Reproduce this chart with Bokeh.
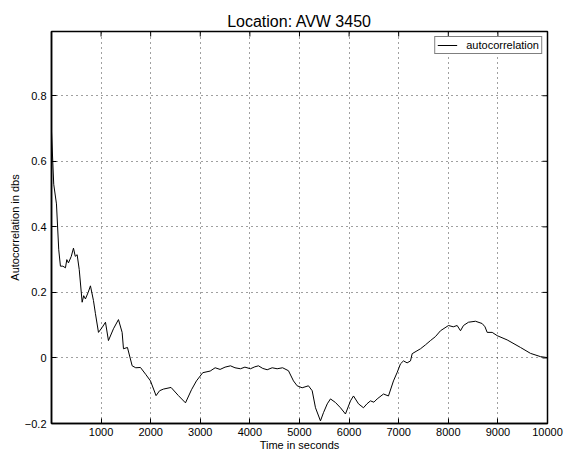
from bokeh.plotting import figure
from bokeh.models import ColumnDataSource, Range1d, FixedTicker, Legend, LegendItem
from bokeh.embed import file_html
from bokeh.resources import INLINE

# ---- data ----
time_s = [1, 46, 101, 147, 181, 230, 282, 310, 343, 400, 444, 480, 518, 560, 619, 650,
          685, 740, 786, 847, 887, 948, 1022, 1089, 1149, 1250, 1351, 1425, 1452, 1532,
          1627, 1700, 1794, 1900, 1996, 2109, 2180, 2258, 2411, 2560, 2702, 2823, 2923,
          3050, 3200, 3300, 3400, 3500, 3609, 3700, 3810, 3900, 4012, 4100, 4173, 4260,
          4349, 4450, 4550, 4660, 4778, 4879, 4953, 5054, 5181, 5256, 5323, 5423, 5484,
          5560, 5625, 5726, 5827, 5927, 6028, 6089, 6190, 6290, 6360, 6431, 6500, 6566,
          6694, 6794, 6895, 6970, 7036, 7097, 7170, 7238, 7272, 7350, 7440, 7540, 7641,
          7740, 7843, 8004, 8100, 8179, 8246, 8306, 8407, 8548, 8683, 8740, 8784, 8885,
          8986, 9187, 9456, 9657, 9859, 10000]
autocorr = [0.69, 0.53, 0.47, 0.33, 0.28, 0.28, 0.275, 0.30, 0.29, 0.31, 0.335, 0.31,
            0.315, 0.27, 0.17, 0.19, 0.18, 0.20, 0.22, 0.175, 0.135, 0.078, 0.093, 0.109,
            0.053, 0.089, 0.117, 0.078, 0.028, 0.032, -0.024, -0.03, -0.029, -0.05, -0.07,
            -0.115, -0.10, -0.095, -0.09, -0.115, -0.137, -0.097, -0.07, -0.045, -0.04,
            -0.03, -0.035, -0.028, -0.024, -0.03, -0.033, -0.028, -0.033, -0.027, -0.024,
            -0.032, -0.036, -0.03, -0.033, -0.03, -0.039, -0.07, -0.085, -0.091, -0.085,
            -0.10, -0.152, -0.192, -0.167, -0.14, -0.125, -0.136, -0.152, -0.171, -0.131,
            -0.116, -0.14, -0.152, -0.14, -0.131, -0.135, -0.125, -0.11, -0.116, -0.07,
            -0.044, -0.018, -0.009, -0.015, -0.009, 0.013, 0.02, 0.028, 0.04, 0.053,
            0.065, 0.083, 0.099, 0.095, 0.099, 0.083, 0.099, 0.109, 0.112, 0.105, 0.095,
            0.078, 0.078, 0.068, 0.055, 0.032, 0.014, 0.004, 0.001]
x_ticks = [1000, 2000, 3000, 4000, 5000, 6000, 7000, 8000, 9000, 10000]
y_ticks = [-0.2, 0, 0.2, 0.4, 0.6, 0.8]
y_tick_labels = {-0.2: "\u22120.2", 0: "0", 0.2: "0.2", 0.4: "0.4", 0.6: "0.6", 0.8: "0.8"}

FONT = "Liberation Sans"
X0, X1 = 1, 10000
Y0, Y1 = -0.2, 0.996

p = figure(width=571, height=455, output_backend="svg", toolbar_location=None,
           x_range=Range1d(X0, X1), y_range=Range1d(Y0, Y1),
           min_border_left=51, min_border_right=24, min_border_top=31, min_border_bottom=32,
           title="Location: AVW 3450")
p.title.align = "center"
p.title.text_font = FONT
p.title.text_font_size = "16px"
p.title.text_font_style = "normal"
p.title.text_color = "black"
p.title.standoff = 3

p.background_fill_color = "white"
p.border_fill_color = "white"
p.outline_line_color = "black"
p.outline_line_width = 1.5

for g in (p.xgrid[0], p.ygrid[0]):
    g.grid_line_color = "black"
    g.grid_line_alpha = 0.75
    g.grid_line_dash = "1 4"
    g.grid_line_width = 1
p.xgrid.ticker = FixedTicker(ticks=x_ticks)
p.ygrid.ticker = FixedTicker(ticks=y_ticks)

# mirrored box ticks on the top and right edges (5 px long, inward)
frame_w, frame_h = 496, 392
tick_dx = 5 * (X1 - X0) / frame_w
tick_dy = 5 * (Y1 - Y0) / frame_h
p.segment(x0=x_ticks, y0=[Y1] * len(x_ticks), x1=x_ticks, y1=[Y1 - tick_dy] * len(x_ticks),
          line_color="black", line_width=1)
p.segment(x0=[X1] * len(y_ticks), y0=y_ticks, x1=[X1 - tick_dx] * len(y_ticks), y1=y_ticks,
          line_color="black", line_width=1)

src = ColumnDataSource(dict(t=time_s, a=autocorr))
r = p.line("t", "a", source=src, line_color="black", line_width=1)


def style_axis(ax):
    ax.major_tick_in = 5
    ax.major_tick_out = 0
    ax.minor_tick_in = 0
    ax.minor_tick_out = 0
    ax.axis_line_color = "black"
    ax.axis_line_width = 1.5
    ax.major_tick_line_color = "black"
    ax.major_label_text_font = FONT
    ax.major_label_text_font_size = "11px"
    ax.major_label_text_color = "black"
    ax.axis_label_text_font = FONT
    ax.axis_label_text_font_size = "11px"
    ax.axis_label_text_font_style = "normal"
    ax.axis_label_text_color = "black"


style_axis(p.xaxis[0])
style_axis(p.yaxis[0])
p.xaxis.ticker = FixedTicker(ticks=x_ticks)
p.yaxis.ticker = FixedTicker(ticks=y_ticks)
p.yaxis.major_label_overrides = y_tick_labels
p.xaxis.major_label_standoff = 4
p.yaxis.major_label_standoff = 5
p.xaxis.axis_label = "Time in seconds"
p.xaxis.axis_label_standoff = 0
p.yaxis.axis_label = "Autocorrelation in dbs"
p.yaxis.axis_label_standoff = 1

legend = Legend(items=[LegendItem(label="autocorrelation", renderers=[r])],
                location="top_right", margin=5, padding=2, spacing=0,
                label_text_font=FONT, label_text_font_size="11px", label_text_color="black",
                label_height=12, glyph_height=12, glyph_width=20, label_standoff=9,
                border_line_color="black", border_line_width=1,
                background_fill_color="white", background_fill_alpha=1)
p.add_layout(legend)

open("out.html", "w").write(file_html(p, INLINE))
